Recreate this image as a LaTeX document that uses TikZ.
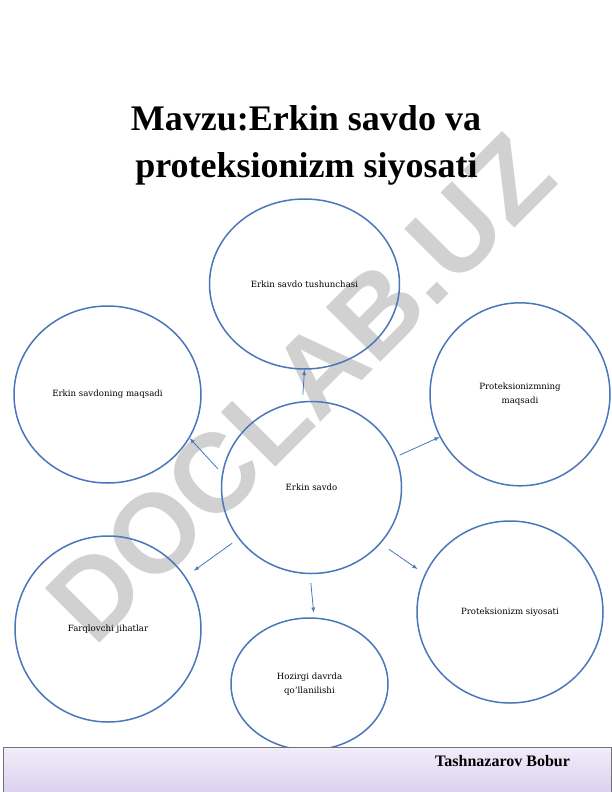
\documentclass[tikz,border=0pt]{standalone}
\usepackage{fontspec}
\setmainfont{Liberation Serif}
\newfontfamily\labelfont{DejaVu Serif}
\newfontfamily\markfont{Liberation Sans}
\usetikzlibrary{arrows,shapes,positioning}
\definecolor{ringblue}{HTML}{4A76BA}
\definecolor{foottop}{HTML}{F1EDF9}
\definecolor{footbot}{HTML}{D9CDEF}

\begin{document}
\begin{tikzpicture}[x=1pt, y=-1pt,
    bubble/.style={ellipse, draw=ringblue, line width=1.5pt, inner sep=0pt, align=center,
        font=\labelfont\fontsize{8.6}{14}\selectfont},
    link/.style={->, >=latex, draw=ringblue, line width=0.8pt}]
    \useasboundingbox (0,0) rectangle (612,792);

    \node[rotate=45, anchor=base west, inner sep=0pt, text=black!18,
        font=\markfont\bfseries\fontsize{112}{112}\selectfont] (mark) at (94,649) {DOCLAB.UZ};

    \node[anchor=base, font=\bfseries\fontsize{36}{44}\selectfont] (title1) at (306,130) {Mavzu:Erkin savdo va};
    \node[anchor=base, font=\bfseries\fontsize{36}{44}\selectfont] (title2) at (306.5,177.6) {proteksionizm siyosati};

    \node[bubble, minimum width=180, minimum height=172] (erkin) at (311.5,487.5) {Erkin savdo};

    \node[bubble, minimum width=190, minimum height=170] (tushuncha) at (304.5,284) {Erkin savdo tushunchasi}; \draw[link, shorten <=6.7pt] (erkin.96) -- (tushuncha.270);
    \node[bubble, minimum width=187, minimum height=177] (maqsad) at (107.5,394.5) {Erkin savdoning maqsadi}; \draw[link, shorten <=6.4pt] (erkin.171) -- (maqsad.-28);
    \node[bubble, minimum width=180, minimum height=183] (pmaqsad) at (520,394.3) {Proteksionizmning\\maqsadi}; \draw[link, shorten <=3.7pt] (erkin.20) -- (pmaqsad.208);
    \node[bubble, minimum width=186, minimum height=186] (farq) at (108,629) {Farqlovchi jihatlar}; \draw[link, shorten <=7.6pt, shorten >=10pt] (erkin.215) -- (farq.34);
    \node[bubble, minimum width=186, minimum height=182] (psiyosat) at (510,612) {Proteksionizm siyosati}; \draw[link, shorten <=9.9pt, shorten >=8.6pt] (erkin.321) -- (psiyosat.156.6);
    \node[bubble, minimum width=157, minimum height=132] (hozir) at (309.5,684) {Hozirgi davrda\\qo‘llanilishi}; \draw[link, shorten <=9pt, shorten >=4.7pt] (erkin.269) -- (hozir.86.5);

    \node[anchor=north west, minimum width=608, minimum height=52, inner sep=0pt, draw=black!55, line width=0.6pt,
        top color=foottop, bottom color=footbot] (footer) at (3,747) {};
    \node[anchor=base west, inner sep=0pt, font=\bfseries\fontsize{16}{19}\selectfont] (author) at (435,766.7) {Tashnazarov Bobur};
\end{tikzpicture}
\end{document}
